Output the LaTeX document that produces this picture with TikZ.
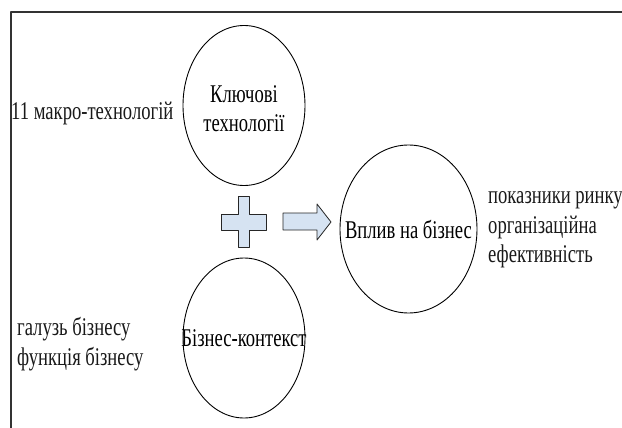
\documentclass[tikz,border=0pt]{standalone}
\usepackage{fontspec}
\setmainfont{Liberation Serif}[FakeStretch=0.73]
\usetikzlibrary{shapes.geometric}
\definecolor{blockblue}{RGB}{214,227,242}
\begin{document}
\begin{tikzpicture}[x=1pt,y=-1pt,line join=round,font=\fontsize{25.5}{29.5}\selectfont]
		\tikzset{oval/.style={draw,ellipse,line width=.9pt,inner xsep=-22pt,inner ysep=0pt,minimum width=122pt,minimum height=160pt,align=center},
			note/.style={inner sep=0pt,align=left,text=black!90},
			block/.style={draw=black!85,fill=blockblue,line width=.8pt}}
		\useasboundingbox (0,0) rectangle (622,428);
		% frame
		\draw[line width=1.2pt,black!80] (11,428)--(11,12)--(622,12);
		% circles
		\node[oval,label={[yshift=-3pt,align=center]center:Ключові\\технології}] (kt) at (244,105.5) {};
		\node[oval] (bc) at (244,338) {Бізнес-контекст};
		\node[oval,minimum width=137pt,minimum height=168pt] (impact) at (408.5,229) {Вплив на бізнес};
		% side notes
		\node[note,anchor=west] (macro) at (11,113) {11 макро-технологій};
		\node[note,anchor=west] (branch) at (17,344) {галузь бізнесу\\функція бізнесу};
		\node[note,anchor=west] (market) at (488,230) {показники ринку\\організаційна\\ефективність};
		% plus and arrow
		\draw[block] (238,196)--(249,196)--(249,214)--(266,214)--(266,230)--(249,230)--(249,247)
			--(238,247)--(238,230)--(221,230)--(221,214)--(238,214)--cycle;
		\draw[block] (283,213)--(317,213)--(317,204)--(331,222)--(317,240)--(317,230)--(283,230)--cycle;
\end{tikzpicture}
\end{document}
